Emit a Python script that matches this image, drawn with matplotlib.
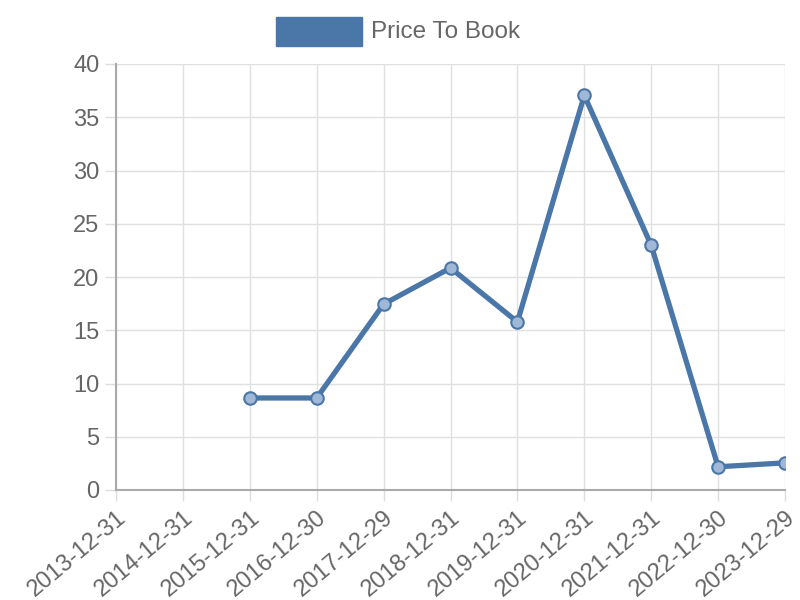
import matplotlib
matplotlib.use("Agg")
import matplotlib.pyplot as plt
import matplotlib.patches as mpatches
import numpy as np

dates = ["2013-12-31", "2014-12-31", "2015-12-31", "2016-12-30", "2017-12-29",
         "2018-12-31", "2019-12-31", "2020-12-31", "2021-12-31", "2022-12-30", "2023-12-29"]
price_to_book = [np.nan, np.nan, 8.64, 8.64, 17.45, 20.85, 15.78, 37.05, 22.98, 2.18, 2.55]
series_label = "Price To Book"
yticks = [0, 5, 10, 15, 20, 25, 30, 35, 40]

plt.rcParams['font.family'] = ['Liberation Sans', 'DejaVu Sans']
line_color = "#4a76a8"
text_color = "#666666"

fig = plt.figure(figsize=(8, 6), dpi=100)
ax = fig.add_axes([116/800, 110/600, (785-116)/800, (490-64)/600])

x = np.arange(len(dates))
ax.plot(x, price_to_book, color=line_color, lw=3.8, solid_joinstyle='round', zorder=3)
ax.plot(x, price_to_book, ls='none', marker='o', ms=9, mfc=(0.62, 0.72, 0.84, 1.0),
        mec=line_color, mew=1.5, zorder=4)

ax.set_xlim(0, len(dates) - 1)
ax.set_ylim(0, 40)
ax.set_xticks(x)
ax.set_xticklabels(dates, rotation=40, ha='right', rotation_mode='anchor')
ax.set_yticks(yticks)
ax.grid(True, color="#e0e0e0", lw=1)
ax.set_axisbelow(True)
for s in ['top', 'right']:
    ax.spines[s].set_visible(False)
for s in ['left', 'bottom']:
    ax.spines[s].set_color("#aaaaaa")
    ax.spines[s].set_linewidth(1.5)
ax.tick_params(axis='both', colors="#dddddd", length=8, width=1, labelcolor=text_color, labelsize=17)
ax.tick_params(axis='x', pad=4)
ax.tick_params(axis='y', pad=4)

# legend
fig.patches.append(mpatches.Rectangle((276/800, 1 - 46/600), 86/800, 29/600,
                                      transform=fig.transFigure, color=line_color))
fig.text(371/800, 1 - 32/600, series_label, fontsize=17.5, color=text_color, va='center', ha='left')

fig.savefig("out.png", dpi=100)
